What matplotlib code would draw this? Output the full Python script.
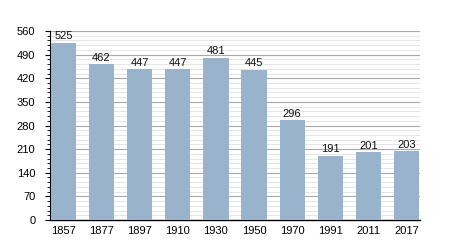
import matplotlib
matplotlib.use("Agg")
import matplotlib.pyplot as plt
from matplotlib.ticker import MultipleLocator

plt.rcParams["font.family"] = ["Liberation Sans", "DejaVu Sans"]

years = ["1857", "1877", "1897", "1910", "1930", "1950", "1970", "1991", "2011", "2017"]
population = [525, 462, 447, 447, 481, 445, 296, 191, 201, 203]
y_ticks = [0, 70, 140, 210, 280, 350, 420, 490, 560]

fig = plt.figure(figsize=(4.5, 2.5), dpi=100)
ax = fig.add_axes([50/450, 1-220/250, 370/450, 189/250])

x = list(range(len(years)))
ax.bar(x, population, width=0.66, color="#9ab3cd", zorder=3)
for xi, v in zip(x, population):
    ax.text(xi, v + 4, str(v), ha="center", va="bottom", fontsize=8, color="#111111", zorder=4)

ax.set_xlim(-0.35, len(years) - 1 + 0.35)
ax.set_ylim(0, 560)
ax.set_xticks(x)
ax.set_xticklabels(years)
ax.set_yticks(y_ticks)
ax.yaxis.set_minor_locator(MultipleLocator(14))
ax.grid(axis="y", which="major", color="#a8a8a8", linewidth=0.8, zorder=1)
ax.grid(axis="y", which="minor", color="#e0e0e0", linewidth=0.6, zorder=1)
ax.tick_params(axis="x", length=0, labelsize=8, pad=4)
ax.tick_params(axis="y", which="major", length=3.5, width=0.8, labelsize=8, pad=7)
ax.tick_params(axis="y", which="minor", length=2, width=0.6)
for s in ["top", "right"]:
    ax.spines[s].set_visible(False)
ax.spines["left"].set_linewidth(0.8)
ax.spines["bottom"].set_linewidth(1.0)

fig.savefig("out.png", dpi=100)
